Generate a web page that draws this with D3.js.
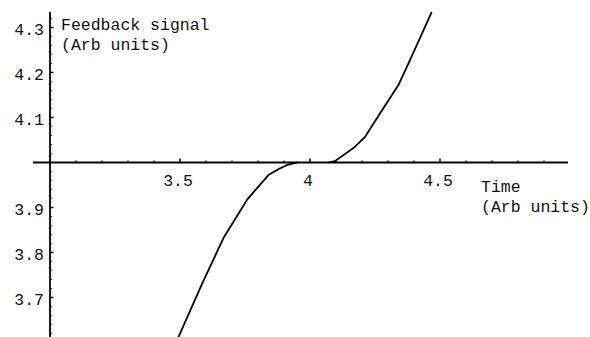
<!DOCTYPE html>
<html>
<head>
<meta charset="utf-8">
<script src="https://cdn.jsdelivr.net/npm/d3@7/dist/d3.min.js"></script>
<style>
  html, body { margin: 0; padding: 0; background: #fff; }
  svg { display: block; }
  text { font-family: "Liberation Mono", "DejaVu Sans Mono", monospace; font-size: 16.5px; fill: #111; }
</style>
</head>
<body>
<svg id="chart" width="590" height="337"></svg>
<script>
// Data
const timeLeft   = [3.494, 3.583, 3.667, 3.759, 3.840, 3.885, 3.910, 3.936, 3.952];
const signalLeft = [3.612, 3.728, 3.832, 3.918, 3.972, 3.987, 3.994, 3.998, 4.000];
const timeRight   = [4.072, 4.096, 4.167, 4.212, 4.269, 4.340, 4.385, 4.468];
const signalRight = [4.000, 4.003, 4.032, 4.057, 4.109, 4.172, 4.228, 4.334];

const xMajorTicks = [3.5, 4, 4.5];
const xMajorLabels = ["3.5", "4", "4.5"];
const yMajorTicks = [3.7, 3.8, 3.9, 4.1, 4.2, 4.3];
const yMajorLabels = ["3.7", "3.8", "3.9", "4.1", "4.2", "4.3"];
const xLabelLines = ["Time", "(Arb units)"];
const yLabelLines = ["Feedback signal", "(Arb units)"];

const svg = d3.select("#chart");
const x = d3.scaleLinear().domain([3, 5]).range([50, 570]);
const y = d3.scaleLinear().domain([3.6122, 4.3344]).range([337, 12]);

const xMinor = d3.range(31, 50).map(d => d / 10).filter(d => !xMajorTicks.some(m => Math.abs(m - d) < 1e-9));
const yMinor = d3.range(181, 217).map(d => d / 50).filter(d => Math.abs(d - 4) > 1e-9 && !yMajorTicks.some(m => Math.abs(m - d) < 1e-9));

const y0 = y(4), x0 = x(3);

// Axes lines
svg.append("line").attr("x1", 33).attr("x2", 568).attr("y1", y0).attr("y2", y0)
  .attr("stroke", "#000").attr("stroke-width", 1.8);
svg.append("line").attr("x1", x0).attr("x2", x0).attr("y1", y(4.3344)).attr("y2", 337)
  .attr("stroke", "#000").attr("stroke-width", 1.8);

// X ticks (pointing up)
svg.selectAll(".xmaj").data(xMajorTicks).enter().append("line")
  .attr("x1", d => x(d)).attr("x2", d => x(d)).attr("y1", y0).attr("y2", y0 - 4)
  .attr("stroke", "#000").attr("stroke-width", 1.5);
svg.selectAll(".xmin").data(xMinor).enter().append("line")
  .attr("x1", d => x(d)).attr("x2", d => x(d)).attr("y1", y0).attr("y2", y0 - 2)
  .attr("stroke", "#000").attr("stroke-width", 1.2);

// Y ticks (pointing right)
svg.selectAll(".ymaj").data(yMajorTicks).enter().append("line")
  .attr("x1", x0).attr("x2", x0 + 3.5).attr("y1", d => y(d)).attr("y2", d => y(d))
  .attr("stroke", "#000").attr("stroke-width", 1.5);
svg.selectAll(".ymin").data(yMinor).enter().append("line")
  .attr("x1", x0).attr("x2", x0 + 2).attr("y1", d => y(d)).attr("y2", d => y(d))
  .attr("stroke", "#000").attr("stroke-width", 1.1);

// Tick labels
svg.selectAll(".xl").data(xMajorTicks).enter().append("text")
  .attr("x", d => x(d) - 2).attr("y", 186).attr("text-anchor", "middle")
  .text((d, i) => xMajorLabels[i]);
svg.selectAll(".yl").data(yMajorTicks).enter().append("text")
  .attr("x", 44).attr("y", d => y(d) + 8).attr("text-anchor", "end")
  .text((d, i) => yMajorLabels[i]);

// Axis labels
svg.selectAll(".ylab").data(yLabelLines).enter().append("text")
  .attr("x", 61).attr("y", (d, i) => 30 + i * 20).attr("xml:space", "preserve").text(d => d);
svg.selectAll(".xlab").data(xLabelLines).enter().append("text")
  .attr("x", 481).attr("y", (d, i) => 192 + i * 20).attr("xml:space", "preserve").text(d => d);

// Curve
const line = d3.line().x(d => x(d[0])).y(d => y(d[1]));
const left = timeLeft.map((t, i) => [t, signalLeft[i]]);
const right = timeRight.map((t, i) => [t, signalRight[i]]);
svg.append("defs").append("clipPath").attr("id", "clip").append("rect")
  .attr("x", x0).attr("y", y(4.3344)).attr("width", 520).attr("height", 337 - y(4.3344));
[left, right].forEach(seg => {
  svg.append("path").datum(seg).attr("d", line).attr("fill", "none")
    .attr("stroke", "#000").attr("stroke-width", 1.8).attr("stroke-linejoin", "round")
    .attr("clip-path", "url(#clip)");
});
</script>
</body>
</html>
